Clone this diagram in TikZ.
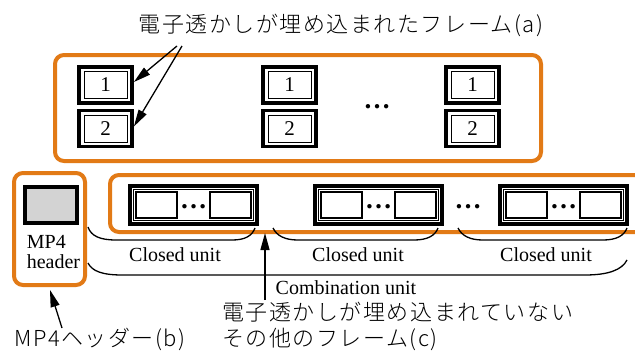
\documentclass[tikz,border=0pt]{standalone}
\usepackage{fontspec}
\setmainfont{Liberation Serif}
\newfontfamily\jpfont[LetterSpace=7]{Noto Sans CJK JP Light}
\usetikzlibrary{arrows.meta}
\definecolor{orng}{RGB}{226,122,22}
\definecolor{hdrgray}{RGB}{211,211,211}
\begin{document}
\begin{tikzpicture}[x=1pt,y=-1pt,
  ob/.style={draw=orng, line width=4pt, rounded corners=9pt},
  numframe/.style={draw, line width=3.8pt, minimum width=53pt, minimum height=36pt, inner sep=0pt,
    font=\fontsize{21}{22}\selectfont,
    path picture={\draw[line width=0.9pt] ([shift={(5pt,4.5pt)}]path picture bounding box.south west) rectangle ([shift={(-5pt,-4.5pt)}]path picture bounding box.north east);}},
  unitframe/.style={draw, line width=3.8pt, minimum width=127pt, minimum height=38pt, inner sep=0pt,
    path picture={\draw[line width=0.9pt] ([shift={(3.9pt,3.9pt)}]path picture bounding box.south west) rectangle ([shift={(-3.9pt,-3.9pt)}]path picture bounding box.north east);}},
  smallbox/.style={draw, line width=1.1pt, minimum width=41pt, minimum height=26pt, inner sep=0pt},
  hdrbox/.style={draw, fill=hdrgray, line width=3.8pt, minimum width=52pt, minimum height=36pt, inner sep=0pt},
  dotsnode/.style={font=\bfseries\fontsize{27}{27}\selectfont, inner sep=0pt},
  lbl/.style={font=\fontsize{20}{20}\selectfont, inner sep=0pt},
  jp/.style={font=\jpfont\fontsize{22}{24}\selectfont, inner sep=0pt},
  arr/.style={line width=1.3pt, -{Triangle[length=17pt,width=9pt]}},
  br/.style={line width=1.3pt}
]
\clip (0,0) rectangle (635,351);
\fill[white] (0,0) rectangle (635,351);

% orange groups
\draw[ob] (55,55) rectangle (541,161);
\draw[ob] (14,173) rectangle (85,285);
\draw[ob] (110,175) rectangle (665,232);

% watermarked frames
\node[numframe] (f11) at (105.5,85) {1};
\node[numframe] (f12) at (105.5,128.5) {2};
\node[numframe] (f21) at (289.5,85) {1};
\node[numframe] (f22) at (289.5,128.5) {2};
\node[numframe] (f31) at (472.5,85) {1};
\node[numframe] (f32) at (472.5,128.5) {2};
\node[dotsnode] (tdots) at (377,107) {…};

% MP4 header
\node[hdrbox] (hdr) at (51,205) {};
\node[lbl, align=left] (hdrtxt) at (53.5,252) {MP4\\header};

% closed units
\node[unitframe] (u1) at (193.5,205) {};
\node[smallbox] (u1a) at (156.5,205) {};
\node[smallbox] (u1b) at (230.5,205) {};
\node[dotsnode] (u1d) at (193.5,207) {…};
\node[unitframe] (u2) at (378.5,205) {};
\node[smallbox] (u2a) at (341.5,205) {};
\node[smallbox] (u2b) at (415.5,205) {};
\node[dotsnode] (u2d) at (378.5,207) {…};
\node[unitframe] (u3) at (563.5,205) {};
\node[smallbox] (u3a) at (526.5,205) {};
\node[smallbox] (u3b) at (600.5,205) {};
\node[dotsnode] (u3d) at (563.5,207) {…};
\node[dotsnode] (mdots) at (468,207) {…};

% braces
\draw[br] (88,227) .. controls (91,236) and (100,240) .. (116,240) -- (232,240) .. controls (245,240) and (252,236) .. (255,228);
\draw[br] (273,228) .. controls (277,236) and (285,240) .. (298,240) -- (414,240) .. controls (427,240) and (435,236) .. (438,228);
\draw[br] (458,228) .. controls (462,236) and (470,240) .. (483,240) -- (603,240) .. controls (616,240) and (624,236) .. (627,228);
\draw[br] (88,263) .. controls (92,271) and (102,275) .. (122,275) -- (585,275) .. controls (608,275) and (622,270) .. (627,260);

\node[lbl] (cl1) at (175,255) {Closed unit};
\node[lbl] (cl2) at (358,255) {Closed unit};
\node[lbl] (cl3) at (546,255) {Closed unit};
\node[lbl] (comb) at (346,288) {Combination unit};

% annotations
\node[jp] (ta) at (341,25) {電子透かしが埋め込まれたフレーム(a)};
\coordinate (ta1) at (177,46);
\coordinate (ta2) at (182,46);
\draw[arr] (ta1) -- ([yshift=3pt]f11.east);
\draw[arr] (ta2) -- ([yshift=2pt]f12.east);

\node[jp, anchor=west] (tc1) at (222,312) {電子透かしが埋め込まれていない};
\node[jp, anchor=west] (tc2) at (222,339) {その他のフレーム(c)};
\coordinate (cbase) at (265,300);
\coordinate (ctip) at (265,233);
\draw[arr] (cbase) -- (ctip);

\node[jp, anchor=west] (tb) at (14,339) {MP4ヘッダー(b)};
\coordinate (bbase) at (62,328);
\coordinate (btip) at (50,290);
\draw[arr] (bbase) -- (btip);
\end{tikzpicture}
\end{document}
